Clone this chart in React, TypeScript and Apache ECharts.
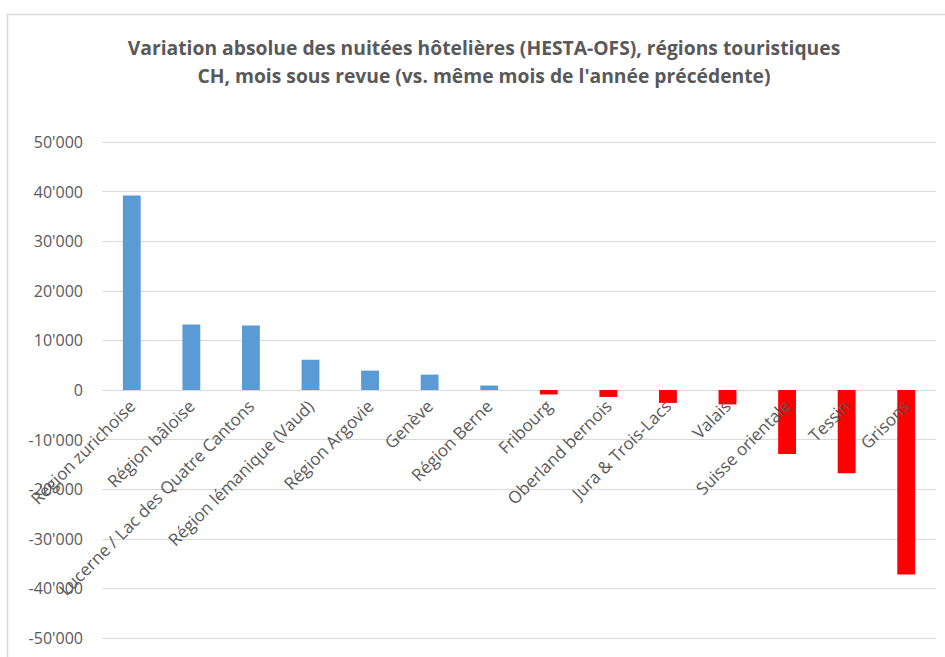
import React, { useEffect, useRef } from "react";
import * as echarts from "echarts";

const titleLines = [
  "Variation absolue des nuitées hôtelières (HESTA-OFS), régions touristiques",
  "CH, mois sous revue (vs. même mois de l'année précédente)",
];

const regions = [
  "Région zurichoise",
  "Région bâloise",
  "Lucerne / Lac des Quatre Cantons",
  "Région lémanique (Vaud)",
  "Région Argovie",
  "Genève",
  "Région Berne",
  "Fribourg",
  "Oberland bernois",
  "Jura & Trois-Lacs",
  "Valais",
  "Suisse orientale",
  "Tessin",
  "Grisons",
];

const variation = [
  39200, 13200, 13000, 6100, 3900, 3100, 900, -900, -1400, -2600, -2900, -12900, -16800, -37200,
];

const yMin = -50000;
const yMax = 50000;
const yStep = 10000;

const positiveColor = "#5B9BD5";
const negativeColor = "#FF0000";

const gridTop = 142;
const gridBottom = 19;
const chartHeight = 657;

function fmt(v: number): string {
  const s = Math.abs(v).toString().replace(/\B(?=(\d{3})+(?!\d))/g, "'");
  return (v < 0 ? "-" : "") + s;
}

export default function App() {
  const ref = useRef<HTMLDivElement>(null);
  useEffect(() => {
    if (!ref.current) return;
    const chart = echarts.init(ref.current, undefined, { renderer: "svg" });
    const plotH = chartHeight - gridTop - gridBottom;
    const zeroOffset = (plotH * (0 - yMin)) / (yMax - yMin);
    chart.setOption({
      animation: false,
      backgroundColor: "#ffffff",
      textStyle: { fontFamily: "Open Sans" },
      title: {
        text: titleLines.join("\n"),
        left: 479,
        textAlign: "center",
        top: 28,
        textStyle: {
          fontFamily: "Open Sans",
          fontSize: 19.3,
          fontWeight: "bold",
          color: "#595959",
          lineHeight: 28,
        },
      },
      graphic: [
        {
          type: "rect",
          shape: { x: 7.5, y: 14.5, width: 1000, height: 700 },
          style: { fill: "none", stroke: "#d9d9d9", lineWidth: 1.5 },
          silent: true,
        },
      ],
      grid: {
        left: 102,
        right: 9,
        top: gridTop,
        bottom: gridBottom,
        containLabel: false,
        outerBoundsMode: "none",
      },
      xAxis: {
        type: "category",
        data: regions,
        z: 5,
        axisLine: { show: false, onZero: false },
        axisTick: { show: false },
        axisLabel: {
          rotate: 45,
          interval: 0,
          color: "#595959",
          fontSize: 17,
          fontFamily: "Open Sans",
          margin: -(zeroOffset - 13),
        },
        splitLine: { show: false },
      },
      yAxis: {
        type: "value",
        min: yMin,
        max: yMax,
        interval: yStep,
        axisLine: { show: false },
        axisTick: { show: false },
        splitLine: { lineStyle: { color: "#d9d9d9", width: 1 } },
        axisLabel: {
          color: "#595959",
          fontSize: 16,
          fontFamily: "Open Sans",
          margin: 19,
          formatter: (v: number) => fmt(v),
        },
      },
      series: [
        {
          type: "bar",
          z: 2,
          barWidth: "30%",
          data: variation.map((v) => ({
            value: v,
            itemStyle: { color: v >= 0 ? positiveColor : negativeColor },
          })),
        },
      ],
    });
    return () => chart.dispose();
  }, []);
  return (
    <div
      ref={ref}
      style={{ position: "fixed", left: 0, top: 0, width: 945, height: 657 }}
    />
  );
}
